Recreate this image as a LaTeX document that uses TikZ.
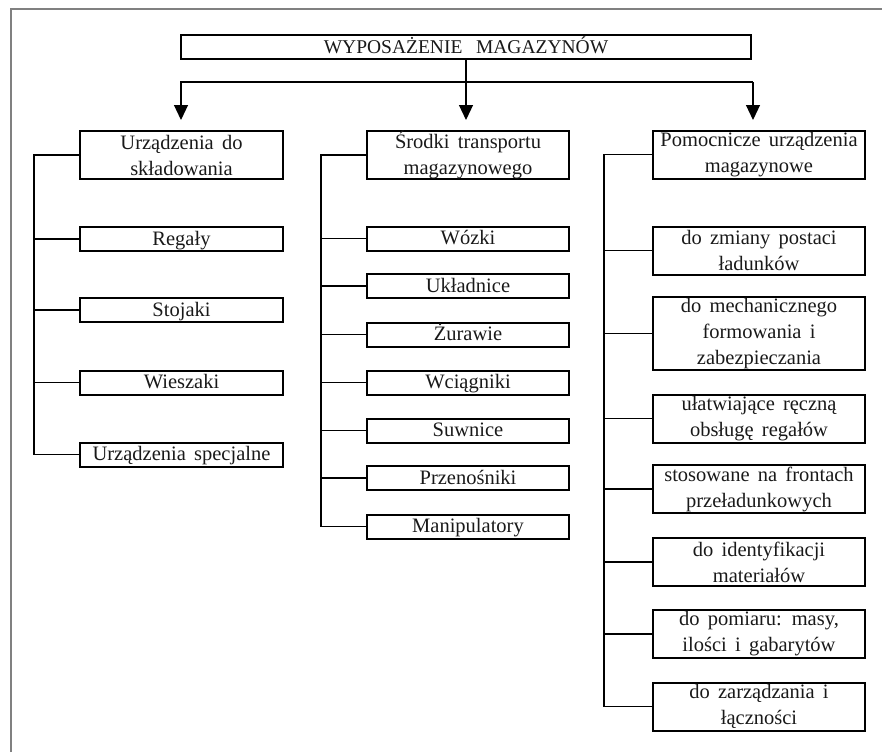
\documentclass[tikz,border=0pt]{standalone}
\usepackage{fontspec}
\setmainfont{Liberation Serif}[WordSpace=1.6]
\usetikzlibrary{arrows.meta}
\begin{document}
\begin{tikzpicture}[x=1pt,y=-1pt]
\tikzset{
  box/.style={draw, line width=2pt, inner sep=0pt, align=center,
    font=\fontsize{20.5}{26}\selectfont, text=black!90},
  colA/.style={box, minimum width=203pt},
  colB/.style={box, minimum width=202pt},
  colC/.style={box, minimum width=212pt},
  one/.style={minimum height=24pt, text height=15pt, text depth=3pt},
  two/.style={minimum height=48pt},
  three/.style={minimum height=73pt},
  link/.style={line width=1.2pt},
  arr/.style={line width=1.2pt, -{Triangle[width=14pt,length=15pt]}},
  frameline/.style={line width=2pt, draw=black!50}
}
\useasboundingbox (0,0) rectangle (882,752);
\draw[frameline] (11,752) -- (11,9) -- (882,9);

% title
\node[box, minimum width=570pt, minimum height=24pt, text height=14pt, text depth=2pt,
  font=\fontsize{19.5}{24}\selectfont] (title) at (466,47)
  {WYPOSAŻENIE\hspace*{0.7em}MAGAZYNÓW};

% column heads
\node[colA, two] (c1) at (181.5,155) {Urządzenia do\\składowania};
\node[colB, two] (c2) at (468,155) {Środki transportu\\magazynowego};
\node[colC, two] (c3) at (759,154.5) {Pomocnicze urządzenia\\magazynowe};

% arrows
\coordinate (hb) at (0,82);
\coordinate (t1) at (181,120);
\coordinate (t2) at (466,120);
\coordinate (t3) at (753,120);
\draw[arr] (title.south) -- (t2);
\draw[arr] (t3 |- hb) -- (t1 |- hb) -- (t1);
\draw[arr] (t3 |- hb) -- (t3);

% column 1
\node[colA, one] (a1) at (181.5,239) {Regały};
\node[colA, one] (a2) at (181.5,310) {Stojaki};
\node[colA, one] (a3) at (181.5,382.5) {Wieszaki};
\node[colA, one] (a4) at (181.5,454.5) {Urządzenia specjalne};
\coordinate (b1) at (34,0);
\draw[link] (c1.west) -- (b1 |- c1.west) -- (b1 |- a4.west) -- (a4.west);
\foreach \n in {a1,a2,a3} \draw[link] (b1 |- \n.west) -- (\n.west);

% column 2
\node[colB, one] (m1) at (468,238.5) {Wózki};
\node[colB, one] (m2) at (468,286) {Układnice};
\node[colB, one] (m3) at (468,334.5) {Żurawie};
\node[colB, one] (m4) at (468,382.5) {Wciągniki};
\node[colB, one] (m5) at (468,430.5) {Suwnice};
\node[colB, one] (m6) at (468,478) {Przenośniki};
\node[colB, one] (m7) at (468,526.5) {Manipulatory};
\coordinate (b2) at (321,0);
\draw[link] (c2.west) -- (b2 |- c2.west) -- (b2 |- m7.west) -- (m7.west);
\foreach \n in {m1,m2,m3,m4,m5,m6} \draw[link] (b2 |- \n.west) -- (\n.west);

% column 3
\node[colC, two] (p1) at (759,250.5) {do zmiany postaci\\ładunków};
\node[colC, three] (p2) at (759,333.5) {do mechanicznego\\formowania i\\zabezpieczania};
\node[colC, two] (p3) at (759,418.5) {ułatwiające ręczną\\obsługę regałów};
\node[colC, two] (p4) at (759,489) {stosowane na frontach\\przeładunkowych};
\node[colC, two] (p5) at (759,562) {do identyfikacji\\materiałów};
\node[colC, two] (p6) at (759,634) {do pomiaru: masy,\\ilości i gabarytów};
\node[colC, two] (p7) at (759,706.5) {do zarządzania i\\łączności};
\coordinate (b3) at (604,0);
\draw[link] (c3.west) -- (b3 |- c3.west) -- (b3 |- p7.west) -- (p7.west);
\foreach \n in {p1,p2,p3,p4,p5,p6} \draw[link] (b3 |- \n.west) -- (\n.west);
\end{tikzpicture}
\end{document}
